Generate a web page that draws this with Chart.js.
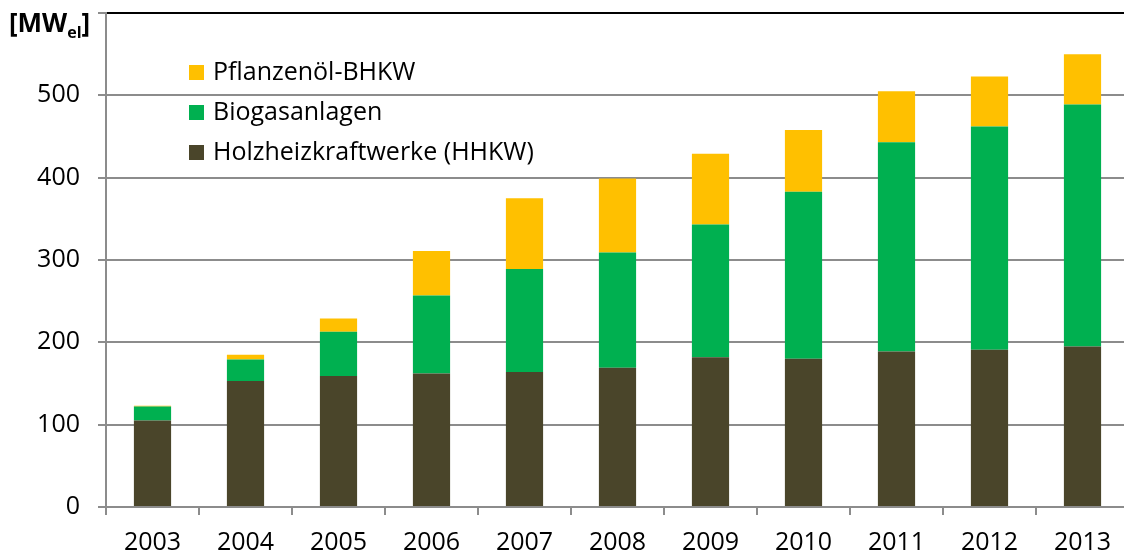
<!doctype html>
<html>

<head>
  <meta charset="utf-8">
  <title>Installierte elektrische Leistung</title>
  <style>
    html, body { margin: 0; padding: 0; background: #fff; overflow: hidden; }
    #myChart { display: block; }
  </style>
</head>

<body>
  <canvas id="myChart" width="1130" height="556"></canvas>

  <script type="text/javascript" src="https://cdn.jsdelivr.net/npm/chart.js"></script>
  <script>
    const years = ['2003', '2004', '2005', '2006', '2007', '2008', '2009', '2010', '2011', '2012', '2013'];
    const holz = [105, 153, 159, 162, 164, 169, 182, 180, 189, 191, 195];
    const biogas = [17, 26, 54, 95, 125, 140, 161, 203, 254, 271, 294];
    const pflanzenoel = [1, 6, 16, 54, 86, 90, 86, 75, 62, 61, 61];
    const yTicks = [0, 100, 200, 300, 400, 500, 600];

    const FONT = 'Open Sans';
    const tickFont = { family: FONT, size: 25 };
    const axisGrey = '#8c8c8c';

    // unit label top-left and legend drawn inside the plot area
    const legendAndUnit = {
      id: 'legendAndUnit',
      afterDraw(chart) {
        const ctx = chart.ctx;
        ctx.save();
        ctx.fillStyle = '#000';
        ctx.textAlign = 'left';
        ctx.textBaseline = 'alphabetic';
        let x = 9;
        ctx.font = `bold 26px "${FONT}"`;
        ctx.fillText('[MW', x, 32);
        x += ctx.measureText('[MW').width;
        ctx.font = `bold 16px "${FONT}"`;
        ctx.fillText('el', x, 38);
        x += ctx.measureText('el').width;
        ctx.font = `bold 26px "${FONT}"`;
        ctx.fillText(']', x, 32);

        const sets = chart.data.datasets.slice().reverse();
        ctx.textBaseline = 'middle';
        ctx.font = `25px "${FONT}"`;
        sets.forEach((ds, i) => {
          const cy = 73 + i * 40;
          ctx.fillStyle = ds.backgroundColor;
          ctx.fillRect(189, cy - 8, 15, 15);
          ctx.fillStyle = '#000';
          ctx.fillText(ds.label, 213, cy);
        });
        ctx.restore();
      }
    };

    const data = {
      labels: years,
      datasets: [
        { label: 'Holzheizkraftwerke (HHKW)', data: holz, backgroundColor: '#4a452a' },
        { label: 'Biogasanlagen', data: biogas, backgroundColor: '#00b050' },
        { label: 'Pflanzenöl-BHKW', data: pflanzenoel, backgroundColor: '#ffc000' }
      ]
    };

    const config = {
      type: 'bar',
      data,
      plugins: [legendAndUnit],
      options: {
        responsive: false,
        animation: false,
        categoryPercentage: 1,
        barPercentage: 0.4,
        layout: { padding: { top: 13, right: 1, left: 0, bottom: 0 } },
        scales: {
          x: {
            stacked: true,
            grid: { offset: true, drawOnChartArea: false, tickLength: 8, color: axisGrey, lineWidth: 2 },
            border: { color: axisGrey, width: 2 },
            ticks: { font: tickFont, color: '#000', padding: 13, maxRotation: 0 },
            afterFit(scale) { scale.height = 49; }
          },
          y: {
            stacked: true,
            min: 0,
            max: 600,
            afterBuildTicks(scale) { scale.ticks = yTicks.map((v) => ({ value: v })); },
            ticks: { font: tickFont, color: '#000', padding: 18, callback: (v) => (v === 600 ? '' : v) },
            grid: {
              color: (c) => (c.tick && c.tick.value === 600 ? '#000' : axisGrey),
              tickColor: axisGrey,
              lineWidth: 2,
              tickLength: 8
            },
            border: { color: axisGrey, width: 2 },
            afterFit(scale) {
              scale.width = 106;
              scale.paddingTop = 0;
              scale.paddingBottom = 0;
            }
          }
        },
        plugins: {
          legend: { display: false },
          tooltip: { enabled: false }
        }
      }
    };

    const myChart = new Chart(document.getElementById('myChart'), config);
  </script>
</body>

</html>
